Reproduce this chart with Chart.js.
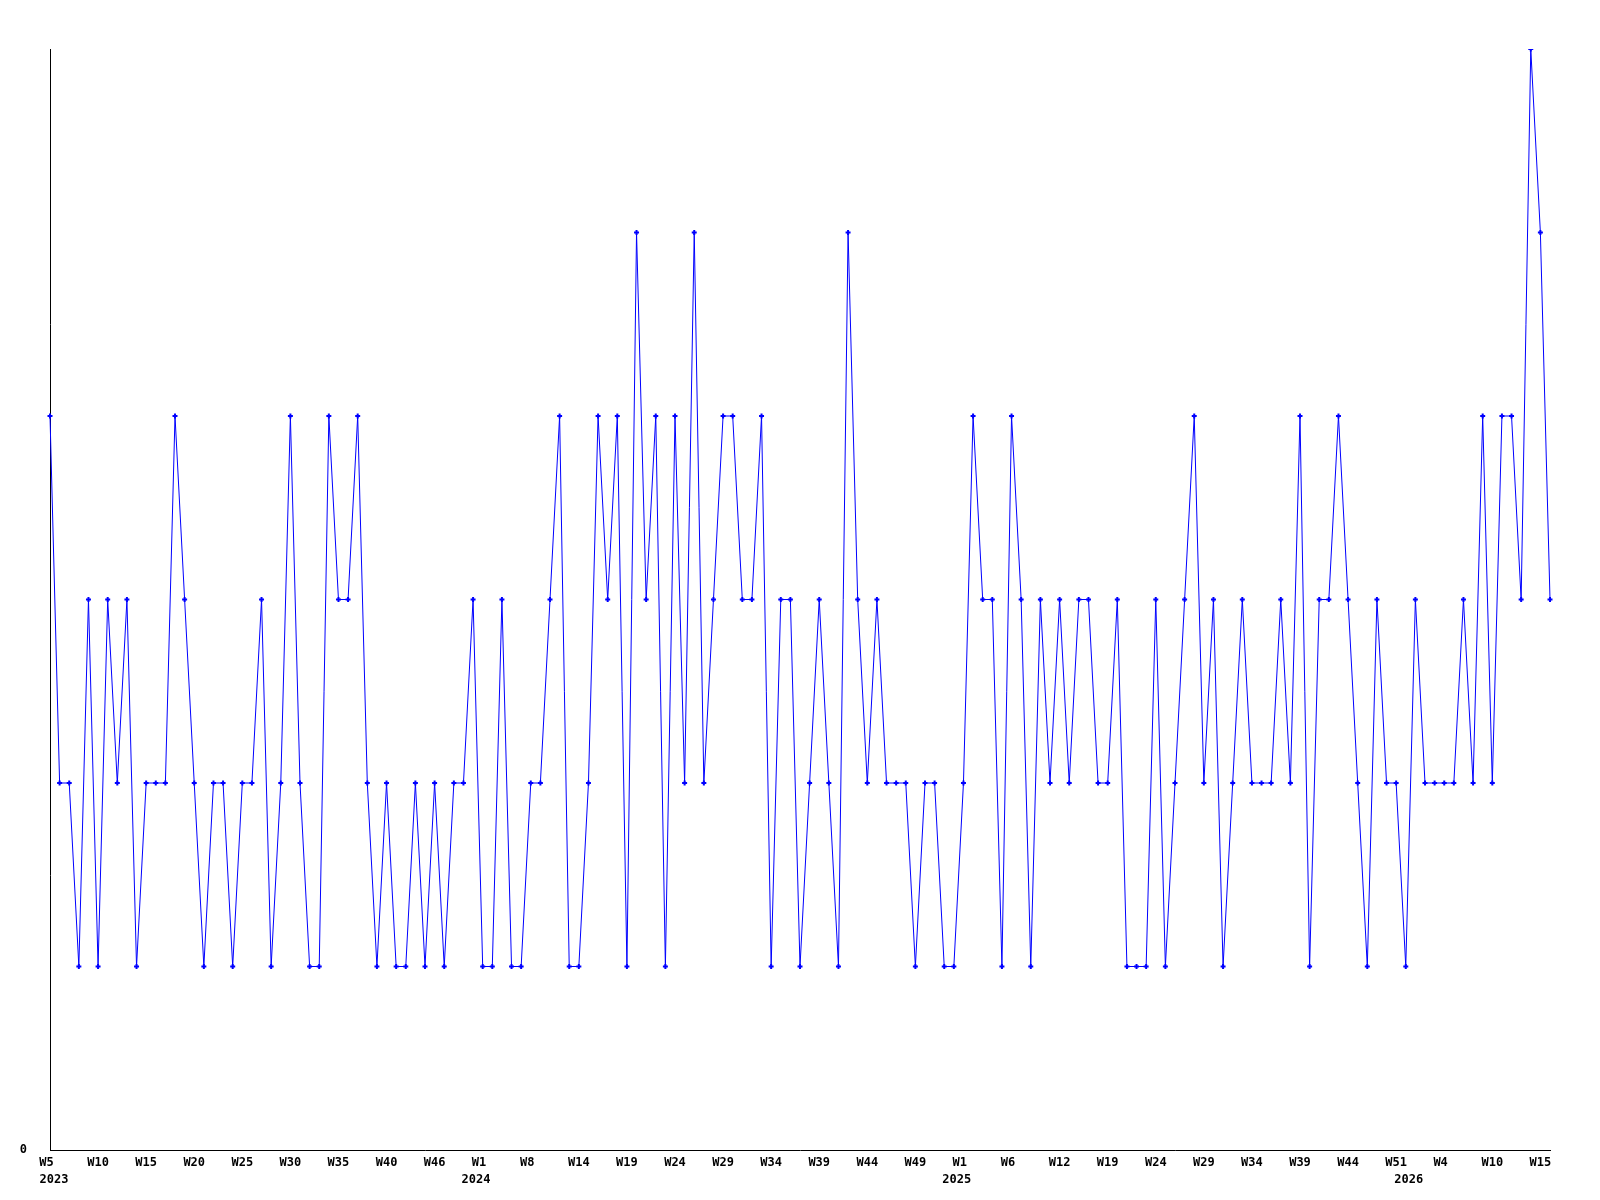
<!DOCTYPE html>
<html>
<head>
<meta charset="utf-8">
<script src="https://cdn.jsdelivr.net/npm/chart.js@4.4.0/dist/chart.umd.min.js"></script>
<style>
  body { margin: 0; background: #fff; }
  #wrap { width: 1600px; height: 1200px; }
</style>
</head>
<body>
<div id="wrap"><canvas id="myChart"></canvas></div>
<script>
// one point per week, some weeks have no entry
var weeks = [
    // 2023
    'W5', 'W6', 'W7', 'W8', 'W9', 'W10', 'W11', 'W12', 'W13', 'W14', 'W15', 'W16', 'W17', 'W18', 'W19',
    'W20', 'W21', 'W22', 'W23', 'W24', 'W25', 'W26', 'W27', 'W28', 'W29', 'W30', 'W31', 'W32', 'W33', 'W34',
    'W35', 'W36', 'W37', 'W38', 'W39', 'W40', 'W41', 'W42', 'W43', 'W45', 'W46', 'W47', 'W48', 'W50', 'W52',
    // 2024
    'W1', 'W2', 'W4', 'W5', 'W7', 'W8', 'W9', 'W10', 'W11', 'W13', 'W14', 'W15', 'W16', 'W17', 'W18',
    'W19', 'W20', 'W21', 'W22', 'W23', 'W24', 'W25', 'W26', 'W27', 'W28', 'W29', 'W30', 'W31', 'W32', 'W33',
    'W34', 'W35', 'W36', 'W37', 'W38', 'W39', 'W40', 'W41', 'W42', 'W43', 'W44', 'W45', 'W46', 'W47', 'W48',
    'W49', 'W50', 'W51', 'W52', 'W53',
    // 2025
    'W1', 'W2', 'W3', 'W4', 'W5', 'W6', 'W7', 'W8', 'W9', 'W11', 'W12', 'W13', 'W15', 'W16', 'W18',
    'W19', 'W20', 'W21', 'W22', 'W23', 'W24', 'W25', 'W26', 'W27', 'W28', 'W29', 'W30', 'W31', 'W32', 'W33',
    'W34', 'W35', 'W36', 'W37', 'W38', 'W39', 'W40', 'W41', 'W42', 'W43', 'W44', 'W45', 'W46', 'W48', 'W50',
    'W51', 'W52',
    // 2026
    'W1', 'W2', 'W3', 'W4', 'W5', 'W6', 'W7', 'W9', 'W10', 'W11', 'W12', 'W13', 'W14', 'W15', 'W16'
];

var counts = [
    4, 2, 2, 1, 3, 1, 3, 2, 3, 1, 2, 2, 2, 4, 3, 2, 1, 2, 2, 1,
    2, 2, 3, 1, 2, 4, 2, 1, 1, 4, 3, 3, 4, 2, 1, 2, 1, 1, 2, 1,
    2, 1, 2, 2, 3, 1, 1, 3, 1, 1, 2, 2, 3, 4, 1, 1, 2, 4, 3, 4,
    1, 5, 3, 4, 1, 4, 2, 5, 2, 3, 4, 4, 3, 3, 4, 1, 3, 3, 1, 2,
    3, 2, 1, 5, 3, 2, 3, 2, 2, 2, 1, 2, 2, 1, 1, 2, 4, 3, 3, 1,
    4, 3, 1, 3, 2, 3, 2, 3, 3, 2, 2, 3, 1, 1, 1, 3, 1, 2, 3, 4,
    2, 3, 1, 2, 3, 2, 2, 2, 3, 2, 4, 1, 3, 3, 4, 3, 2, 1, 3, 2,
    2, 1, 3, 2, 2, 2, 2, 3, 2, 4, 2, 4, 4, 3, 6, 5, 3
];

var years = ['2023', '2024', '2025', '2026'];
var yearStart = [0, 45, 95, 142];   // index of the first week of each year

var labelEvery = 5;
var font = 'DejaVu Sans Mono';

// year row under the week labels
var yearLabels = {
    id: 'yearLabels',
    afterDraw: function (chart) {
        var xs = chart.scales.x;
        var ctx = chart.ctx;
        var step = xs.getPixelForValue(1) - xs.getPixelForValue(0);
        ctx.save();
        ctx.font = 'bold 12px "' + font + '"';
        ctx.fillStyle = '#000';
        ctx.textAlign = 'center';
        ctx.textBaseline = 'middle';
        for (var k = 0; k < years.length; k++) {
            var w = ctx.measureText(years[k]).width;
            var x = xs.getPixelForValue(yearStart[k]) - 0.7 * step;
            x = Math.max(x, xs.left - 10.5 + w / 2);
            ctx.fillText(years[k], x, xs.top + 29.5);
        }
        ctx.restore();
    }
};

var ctx = document.getElementById('myChart').getContext('2d');
var myChart = new Chart(ctx, {
    type: 'line',
    data: {
        labels: weeks,
        datasets: [{
            data: counts,
            borderColor: '#0000ff',
            backgroundColor: '#0000ff',
            borderWidth: 1,
            tension: 0,
            fill: false,
            pointStyle: 'cross',
            pointRadius: 2.5,
            pointBorderWidth: 2,
            pointBorderColor: '#0000ff',
            pointHoverRadius: 2.5
        }]
    },
    options: {
        responsive: true,
        maintainAspectRatio: false,
        animation: false,
        layout: { padding: { top: 49, right: 50, left: 0, bottom: 0 } },
        plugins: {
            legend: { display: false },
            tooltip: { enabled: false }
        },
        scales: {
            x: {
                type: 'category',
                offset: false,
                grid: { display: false, drawTicks: false },
                border: { display: true, color: '#000', width: 1 },
                ticks: {
                    autoSkip: false,
                    maxRotation: 0,
                    minRotation: 0,
                    padding: 6,
                    color: '#000',
                    font: { family: font, size: 12, weight: 'bold' },
                    callback: function (v, i) {
                        return i % labelEvery === 0 ? weeks[v].padEnd(3) : '';
                    }
                },
                afterFit: function (s) { s.height = 50; }
            },
            y: {
                min: 0,
                max: 6,
                grid: { display: false, drawTicks: false },
                border: { display: true, color: '#000', width: 1 },
                ticks: {
                    stepSize: 6,
                    padding: 23,
                    color: '#000',
                    font: { family: font, size: 12, weight: 'bold' },
                    callback: function (v) { return v === 0 ? '0' : ''; }
                },
                afterFit: function (s) { s.width = 50; }
            }
        }
    },
    plugins: [yearLabels]
});
</script>
</body>
</html>
